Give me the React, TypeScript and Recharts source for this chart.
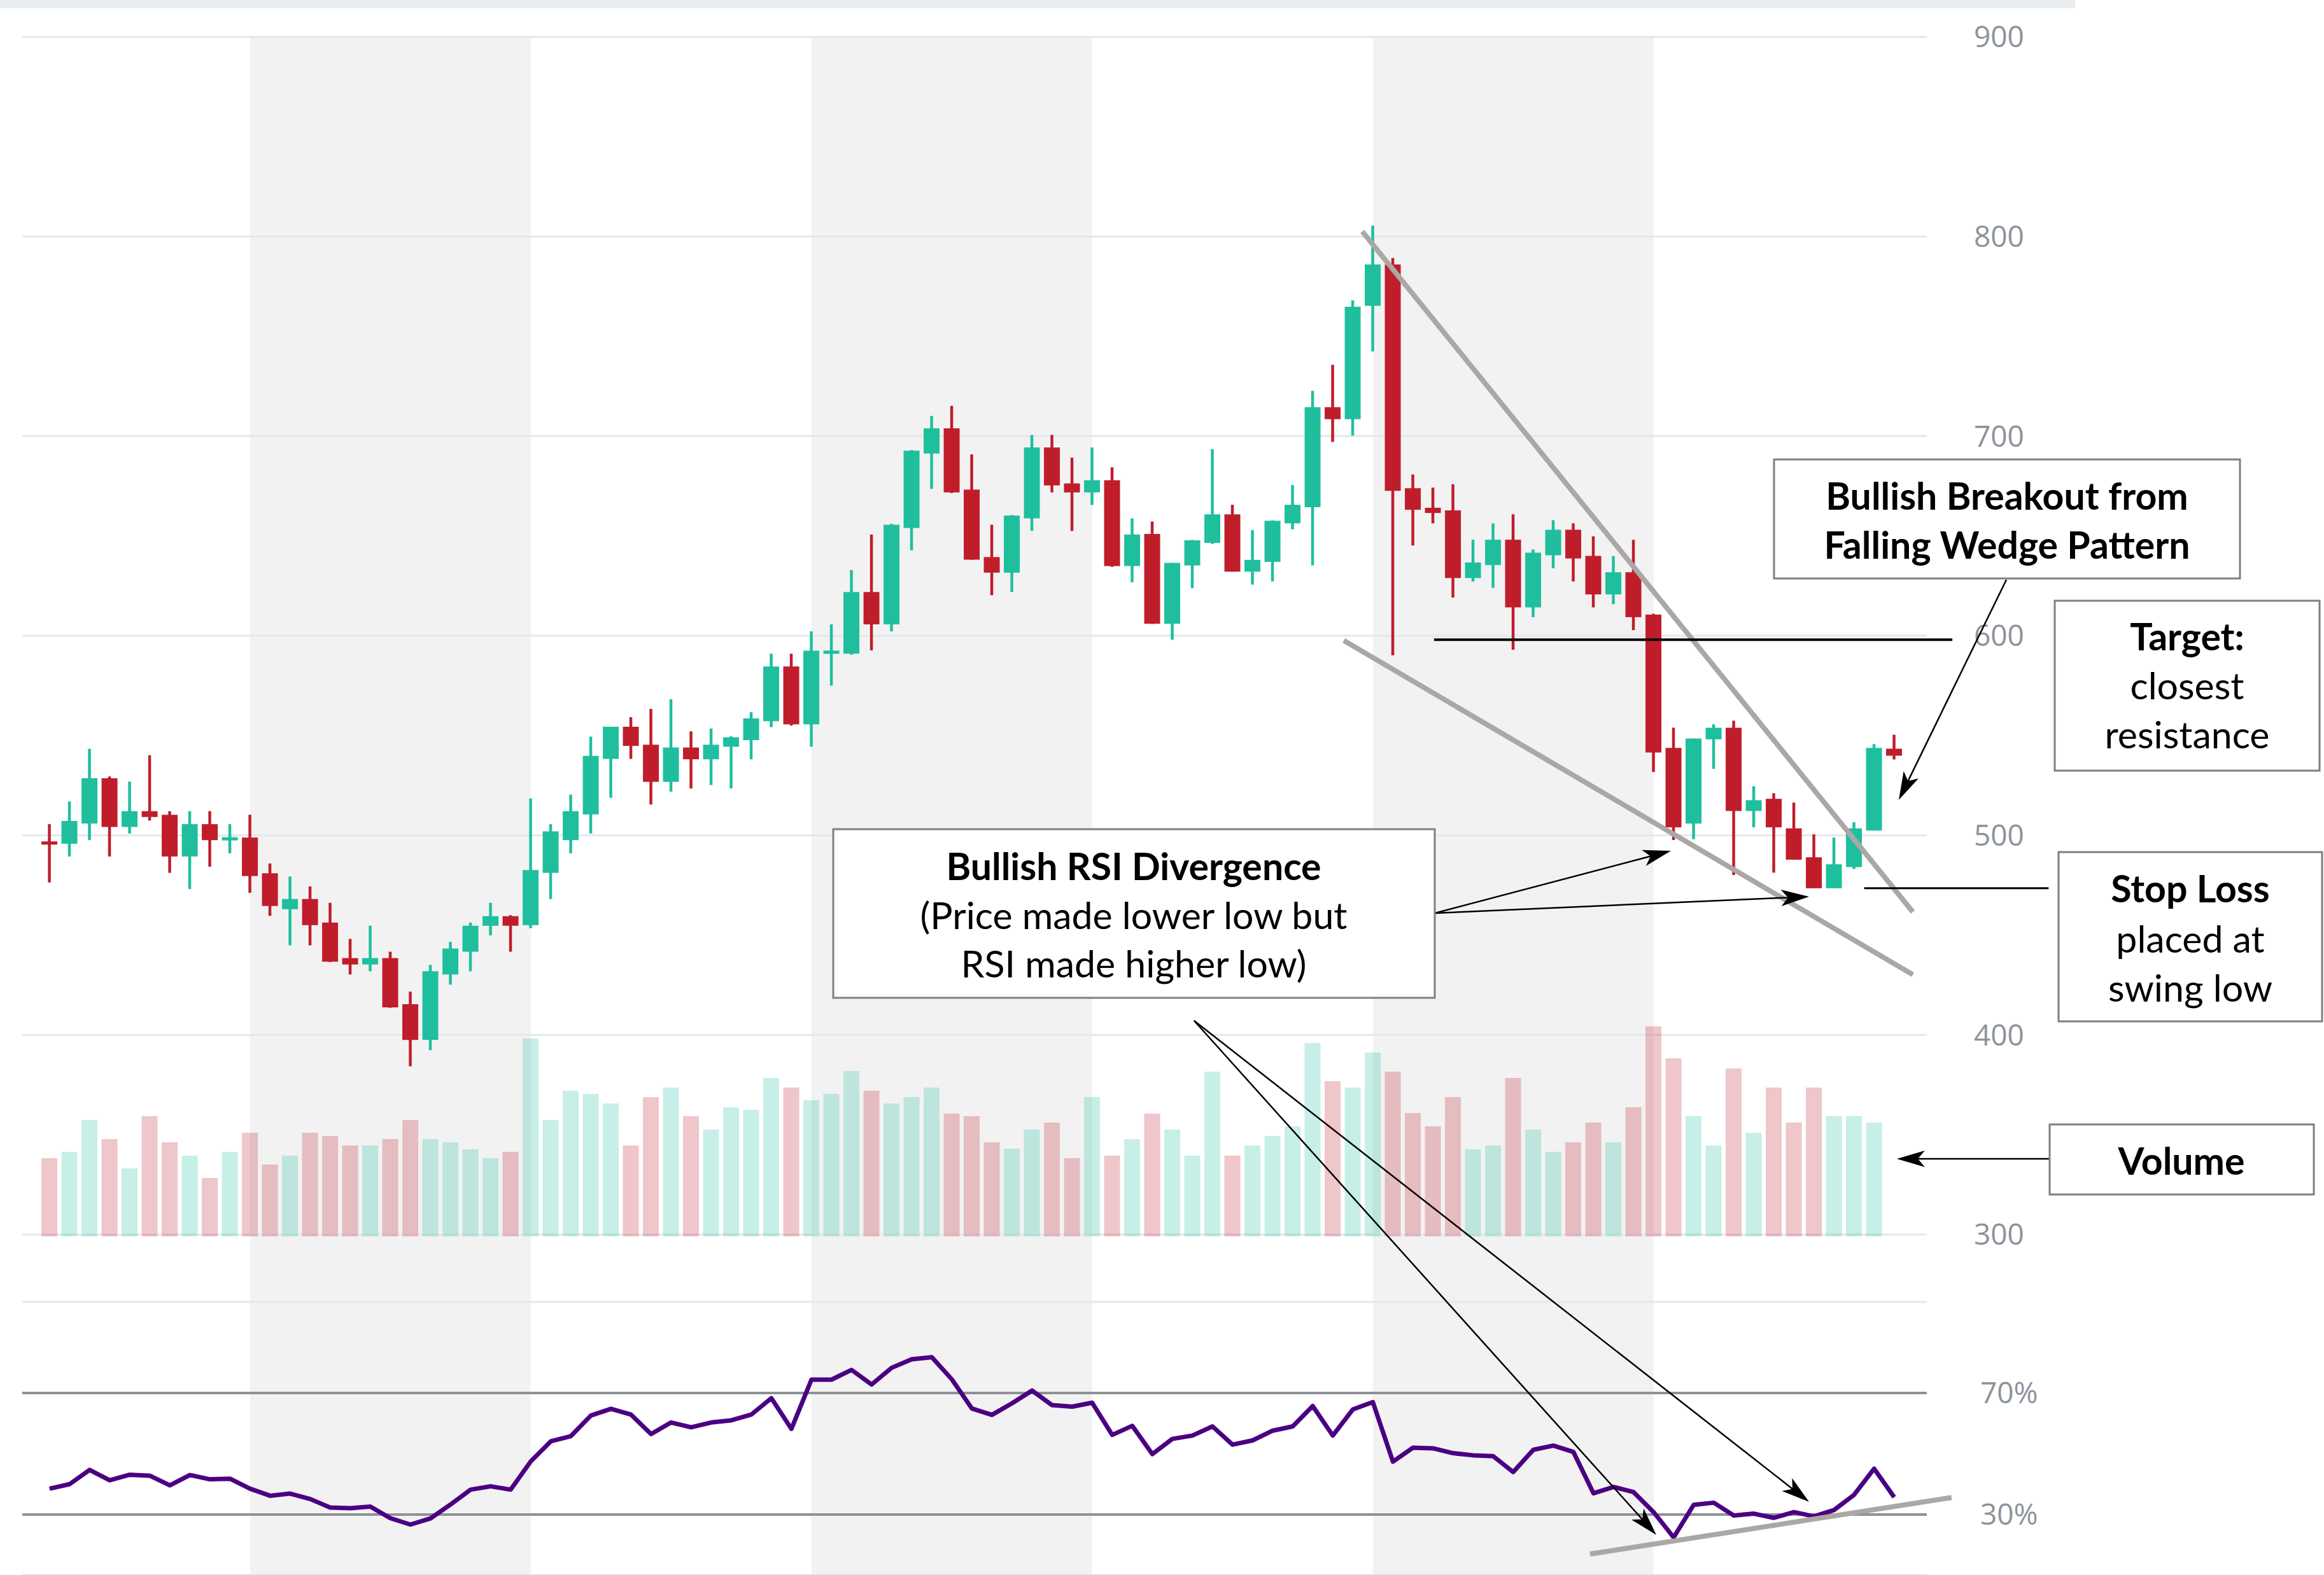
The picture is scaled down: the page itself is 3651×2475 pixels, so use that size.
import React from 'react';
import {
  ComposedChart,
  Bar,
  Line,
  XAxis,
  YAxis,
  CartesianGrid,
  ReferenceArea,
  ReferenceLine,
  Cell,
} from 'recharts';

const W = 3651;
const H = 2475;

// ---- values (one entry per daily candle) ----
const opens = [
  496.8, 495.8, 505.9, 528.6, 504.2, 512.1, 510.3, 489.4, 505.6, 497.6,
  498.9, 481.0, 463.0, 468.1, 456.3, 438.5, 435.3, 438.5, 415.4, 397.5,
  430.3, 441.7, 454.7, 459.5, 455.0, 481.2, 497.6, 510.5, 538.3, 554.4,
  545.4, 526.8, 544.0, 538.1, 544.4, 547.7, 557.2, 584.6, 555.6, 591.0,
  591.0, 621.9, 605.7, 654.0, 691.3, 703.9, 673.2, 639.4, 631.6, 658.8,
  694.3, 676.3, 671.8, 677.9, 634.9, 651.0, 606.0, 635.2, 646.5, 660.8,
  632.1, 637.0, 656.3, 664.4, 714.5, 708.5, 765.3, 786.0, 673.9, 664.1,
  662.8, 628.9, 635.4, 648.1, 614.2, 640.3, 653.1, 640.0, 620.7, 631.8,
  610.6, 543.8, 505.9, 548.1, 553.9, 512.2, 518.3, 503.5, 489.0, 473.5,
  484.1, 502.4, 543.4,
];
const highs = [
  505.6, 517.0, 543.3, 529.5, 526.9, 540.1, 512.1, 512.1, 512.1, 505.6,
  510.3, 485.9, 479.4, 474.4, 466.2, 448.1, 454.7, 441.7, 421.7, 435.1,
  446.6, 456.3, 466.2, 460.0, 518.5, 505.6, 520.4, 549.5, 554.4, 559.2,
  563.3, 568.2, 552.1, 553.5, 549.6, 561.7, 591.0, 591.0, 602.2, 605.7,
  632.9, 650.7, 656.0, 693.0, 710.1, 715.2, 690.9, 655.6, 660.5, 700.6,
  700.6, 689.2, 694.3, 684.4, 658.8, 657.2, 636.5, 648.0, 693.5, 665.6,
  652.9, 657.8, 675.5, 722.7, 735.7, 768.0, 805.5, 789.2, 680.8, 674.2,
  675.9, 648.1, 656.3, 660.8, 643.2, 657.9, 656.3, 649.8, 640.0, 648.1,
  611.0, 553.9, 548.5, 555.6, 557.4, 524.6, 521.1, 516.4, 500.5, 498.9,
  506.6, 545.7, 550.4,
];
const lows = [
  476.4, 489.4, 497.6, 489.4, 500.9, 507.4, 481.2, 473.1, 484.3, 491.0,
  471.2, 459.7, 444.9, 444.9, 436.5, 430.3, 431.9, 413.6, 384.3, 392.4,
  425.2, 431.9, 449.9, 441.7, 453.5, 468.1, 491.0, 500.9, 518.8, 538.3,
  515.4, 521.9, 523.5, 525.2, 523.5, 538.1, 554.2, 555.0, 544.4, 575.0,
  590.5, 592.7, 602.2, 642.8, 673.6, 671.5, 638.0, 620.3, 621.9, 652.5,
  671.8, 652.5, 665.5, 634.5, 626.8, 605.9, 598.0, 623.8, 646.0, 632.1,
  625.6, 627.2, 653.3, 635.2, 697.1, 700.3, 742.4, 590.2, 645.2, 656.3,
  619.1, 627.2, 624.0, 593.0, 609.3, 633.8, 627.2, 614.2, 615.8, 602.8,
  531.7, 497.7, 498.1, 533.3, 480.1, 504.0, 481.3, 487.8, 473.5, 473.5,
  483.1, 502.4, 538.0,
];
const closes = [
  495.5, 507.2, 528.6, 504.2, 512.1, 509.2, 489.4, 505.6, 497.6, 498.9,
  479.6, 464.6, 468.1, 455.0, 436.7, 435.3, 438.5, 413.8, 397.5, 431.9,
  443.3, 454.7, 459.5, 454.7, 482.6, 502.0, 512.1, 539.8, 554.4, 544.8,
  526.8, 544.0, 538.1, 545.4, 549.1, 558.6, 584.6, 555.6, 592.5, 592.5,
  621.9, 605.7, 655.6, 692.7, 703.9, 671.8, 638.1, 631.6, 660.2, 694.3,
  675.3, 671.8, 677.9, 634.9, 650.7, 606.0, 636.5, 647.8, 660.8, 632.1,
  638.0, 657.6, 665.6, 714.5, 708.5, 764.8, 786.0, 672.6, 663.1, 661.5,
  628.9, 636.7, 648.1, 614.2, 641.6, 653.1, 638.7, 620.7, 631.8, 609.3,
  541.5, 504.0, 548.5, 553.9, 512.2, 517.6, 504.0, 487.8, 473.5, 485.5,
  503.5, 543.8, 539.9,
];
// last candle has no volume bar yet
const volumes = [
  123, 133, 183, 153, 107, 189, 148, 127, 92, 133,
  163, 113, 127, 163, 158, 143, 143, 153, 183, 153,
  148, 137, 123, 133, 311, 183, 229, 224, 209, 143,
  219, 234, 189, 168, 203, 199, 249, 234, 214, 224,
  260, 229, 209, 219, 234, 193, 189, 148, 138, 168,
  179, 123, 219, 127, 153, 193, 168, 127, 259, 127,
  143, 158, 173, 304, 244, 234, 289, 259, 194, 173,
  219, 137, 143, 249, 168, 133, 148, 179, 148, 203,
  330, 280, 189, 143, 264, 163, 234, 179, 234, 189,
  189, 179, null,
];
const rsiValues = [
  38.5, 40.0, 44.7, 41.3, 43.1, 42.8, 39.6, 43.0, 41.6, 41.8,
  38.5, 36.2, 36.9, 35.1, 32.3, 32.1, 32.6, 28.8, 26.7, 28.7,
  33.3, 38.2, 39.3, 38.2, 47.5, 54.1, 55.8, 62.6, 64.8, 62.9,
  56.5, 60.3, 58.7, 60.3, 61.0, 62.9, 68.3, 58.2, 74.4, 74.4,
  77.6, 72.8, 78.3, 81.1, 81.8, 74.5, 64.9, 62.8, 66.6, 70.8,
  66.0, 65.5, 66.8, 56.2, 59.2, 49.9, 54.9, 56.0, 59.0, 53.0,
  54.4, 57.6, 59.0, 65.7, 56.0, 64.6, 67.0, 47.4, 52.0, 51.8,
  50.2, 49.5, 49.2, 44.0, 51.3, 52.7, 50.6, 37.0, 39.1, 37.4,
  30.8, 22.5, 33.2, 33.9, 29.7, 30.3, 28.9, 30.8, 29.4, 31.5,
  36.5, 45.1, 35.7,
];

const priceTicks = [300, 400, 500, 600, 700, 800, 900];
const rsiLevels = [
  { value: 70, label: '70%' },
  { value: 30, label: '30%' },
];
// alternating two-week shading, in candle index
const shadedSpans = [
  [10, 24],
  [38, 52],
  [66, 80],
];

// drawn trend lines, as (candle index, price) or (candle index, rsi)
const upperWedge = [{ x: 65.47, y: 802.5 }, { x: 92.93, y: 461.6 }];
const lowerWedge = [{ x: 64.55, y: 597.6 }, { x: 92.93, y: 430.2 }];
const resistance = [{ x: 69.05, y: 598 }, { x: 94.9, y: 598 }];
const stopLoss = [{ x: 90.5, y: 473.5 }, { x: 99.7, y: 473.5 }];
const rsiSupport = [{ x: 76.83, y: 17.0 }, { x: 94.86, y: 35.6 }];

const rows = opens.map((open, i) => ({
  i,
  open,
  high: highs[i],
  low: lows[i],
  close: closes[i],
  range: [lows[i], highs[i]],
  volume: volumes[i],
  rsi: rsiValues[i],
  up: closes[i] >= opens[i],
}));

// ---- look ----
const GREEN = '#1fbf9e';
const RED = '#c01d2b';
const GRID = '#e4e7eb';
const SHADE = '#f2f2f2';
const WEDGE = '#aba7a5';
const LEVEL = '#8e9195';
const RSI_COLOR = '#4b0082';
const AXIS_TEXT = '#8d929a';
const FONT = 'Lato, "Open Sans", sans-serif';
const NOTE_SIZE = 59;

// ---- layout: one plot area spanning the whole height, three value axes ----
const PLOT_LEFT = 35;
const PLOT_RIGHT = 3027;
const AXIS_W = 150;
const FIRST_X = 77.8;
const STEP = 31.5;

const xDomain: [number, number] = [
  (PLOT_LEFT - FIRST_X) / STEP,
  (PLOT_RIGHT - FIRST_X) / STEP,
];

// domain of an axis covering y = 0..H, from two value/pixel anchors
function spanDomain(v1: number, y1: number, v2: number, y2: number): [number, number] {
  const k = (v2 - v1) / (y2 - y1);
  return [v1 + (H - y1) * k, v1 + (0 - y1) * k];
}

const priceDomain = spanDomain(900, 58, 300, 1940);
const rsiDomain = spanDomain(70, 2189, 30, 2380);
const volDomain = spanDomain(0, 1943, 100, 1843);

const Candle = (props: any) => {
  const { x, y, width, height, payload } = props;
  if (x == null || y == null || !payload) return null;
  const top = Math.min(y, y + height);
  const bot = Math.max(y, y + height);
  const { open, close, high, low, up } = payload;
  const py = (v: number) => (high === low ? top : top + ((high - v) / (high - low)) * (bot - top));
  const cx = x + width / 2;
  const color = up ? GREEN : RED;
  let bTop = py(Math.max(open, close));
  let bBot = py(Math.min(open, close));
  if (bBot - bTop < 5) {
    const mid = (bTop + bBot) / 2;
    bTop = mid - 2.5;
    bBot = mid + 2.5;
  }
  return (
    <g>
      <line x1={cx} x2={cx} y1={top} y2={bot} stroke={color} strokeWidth={4.5} />
      <rect x={cx - width / 2} y={bTop} width={width} height={bBot - bTop} fill={color} />
    </g>
  );
};

// ---- annotation overlay (pixel space) ----
type Note = {
  x: number;
  y: number;
  w: number;
  h: number;
  cx: number;
  lines: { text: string; bold?: boolean; cy: number }[];
};

const notes: Note[] = [
  {
    x: 1309, y: 1303, w: 945, h: 265, cx: 1781,
    lines: [
      { text: 'Bullish RSI Divergence', bold: true, cy: 1360 },
      { text: '(Price made lower low but', cy: 1437 },
      { text: 'RSI made higher low)', cy: 1513 },
    ],
  },
  {
    x: 2787, y: 722, w: 732, h: 187, cx: 3153,
    lines: [
      { text: 'Bullish Breakout from', bold: true, cy: 778 },
      { text: 'Falling Wedge Pattern', bold: true, cy: 855 },
    ],
  },
  {
    x: 3228, y: 944, w: 416, h: 267, cx: 3436,
    lines: [
      { text: 'Target:', bold: true, cy: 999 },
      { text: 'closest', cy: 1076 },
      { text: 'resistance', cy: 1153 },
    ],
  },
  {
    x: 3234, y: 1339, w: 414, h: 266, cx: 3441,
    lines: [
      { text: 'Stop Loss', bold: true, cy: 1395 },
      { text: 'placed at', cy: 1474 },
      { text: 'swing low', cy: 1551 },
    ],
  },
  {
    x: 3220, y: 1767, w: 415, h: 110, cx: 3427,
    lines: [{ text: 'Volume', bold: true, cy: 1823 }],
  },
];

const arrows = [
  [2254, 1435, 2625, 1337],
  [2254, 1435, 2842, 1409],
  [1876, 1604, 2602, 2412],
  [1876, 1604, 2842, 2360],
  [3152, 911, 2983, 1257],
  [3220, 1821, 2980, 1821],
];

function Arrow({ a }: { a: number[] }) {
  const [x1, y1, x2, y2] = a;
  const ang = Math.atan2(y2 - y1, x2 - x1);
  const len = 44;
  const half = 13;
  const c = Math.cos(ang);
  const s = Math.sin(ang);
  const bx = x2 - len * c;
  const by = y2 - len * s;
  const nx = x2 - len * 0.75 * c;
  const ny = y2 - len * 0.75 * s;
  const pts = `${x2},${y2} ${bx - s * half},${by + c * half} ${nx},${ny} ${bx + s * half},${by - c * half}`;
  return (
    <g>
      <line x1={x1} y1={y1} x2={nx} y2={ny} stroke="#000" strokeWidth={2.5} />
      <polygon points={pts} fill="#000" />
    </g>
  );
}

export default function App() {
  return (
    <div style={{ position: 'absolute', left: 0, top: 0, width: W, height: H, background: '#fff' }}>
      <ComposedChart
        width={W}
        height={H}
        data={rows}
        margin={{ top: 0, right: W - PLOT_RIGHT - AXIS_W, bottom: 0, left: PLOT_LEFT }}
      >
        <XAxis dataKey="i" type="number" domain={xDomain} allowDataOverflow hide />
        <XAxis xAxisId="vx" dataKey="i" type="number" domain={xDomain} allowDataOverflow hide />
        <YAxis
          orientation="right"
          width={AXIS_W}
          domain={priceDomain}
          allowDataOverflow
          ticks={priceTicks}
          interval={0}
          axisLine={false}
          tickLine={false}
          tickSize={0}
          tickMargin={74}
          tick={{ fill: AXIS_TEXT, fontSize: 46, fontFamily: '"Open Sans", sans-serif' }}
        />
        <YAxis yAxisId="vol" domain={volDomain} allowDataOverflow hide />
        <YAxis yAxisId="rsi" domain={rsiDomain} allowDataOverflow hide />

        {shadedSpans.map(([a, b]) => (
          <ReferenceArea
            key={`shade-${a}`}
            x1={a}
            x2={b}
            y1={priceDomain[0]}
            y2={900}
            fill={SHADE}
            fillOpacity={1}
            stroke="none"
            zIndex={-200}
          />
        ))}

        <CartesianGrid vertical={false} stroke={GRID} strokeWidth={3} />
        <ReferenceLine yAxisId="rsi" y={100} stroke={GRID} strokeWidth={3} />
        {rsiLevels.map((l) => (
          <ReferenceLine
            key={l.label}
            yAxisId="rsi"
            y={l.value}
            stroke={LEVEL}
            strokeWidth={4}
            label={{
              value: l.label,
              position: 'right',
              offset: 84,
              fill: AXIS_TEXT,
              fontSize: 46,
              fontFamily: '"Open Sans", sans-serif',
            }}
          />
        ))}

        <Bar xAxisId="vx" yAxisId="vol" dataKey="volume" barSize={25} isAnimationActive={false}>
          {rows.map((r) => (
            <Cell key={`v-${r.i}`} fill={r.up ? GREEN : RED} fillOpacity={0.25} />
          ))}
        </Bar>
        <Bar dataKey="range" barSize={25} shape={Candle} isAnimationActive={false} />

        <Line
          yAxisId="rsi"
          dataKey="rsi"
          type="linear"
          stroke={RSI_COLOR}
          strokeWidth={7}
          strokeLinejoin="round"
          dot={false}
          activeDot={false}
          isAnimationActive={false}
        />

        <ReferenceLine segment={upperWedge} stroke={WEDGE} strokeWidth={8} ifOverflow="visible" zIndex={700} />
        <ReferenceLine segment={lowerWedge} stroke={WEDGE} strokeWidth={8} ifOverflow="visible" zIndex={700} />
        <ReferenceLine segment={resistance} stroke="#000" strokeWidth={4} ifOverflow="visible" zIndex={700} />
        <ReferenceLine segment={stopLoss} stroke="#000" strokeWidth={3} ifOverflow="visible" zIndex={700} />
        <ReferenceLine
          yAxisId="rsi"
          segment={rsiSupport}
          stroke={WEDGE}
          strokeWidth={8}
          ifOverflow="visible"
          zIndex={700}
        />
      </ComposedChart>

      <svg
        width={W}
        height={H}
        style={{ position: 'absolute', left: 0, top: 0, pointerEvents: 'none' }}
      >
        <rect x={0} y={0} width={3260} height={13} fill="#e9edf0" />
        {arrows.map((a, k) => (
          <Arrow key={k} a={a} />
        ))}
        {notes.map((n, k) => (
          <g key={k}>
            <rect x={n.x} y={n.y} width={n.w} height={n.h} fill="#fff" stroke="#7f7f7f" strokeWidth={3} />
            {n.lines.map((l) => (
              <text
                key={l.text}
                x={n.cx}
                y={l.cy}
                textAnchor="middle"
                dominantBaseline="central"
                fontFamily={FONT}
                fontSize={NOTE_SIZE}
                fontWeight={l.bold ? 700 : 400}
                fill="#000"
              >
                {l.text}
              </text>
            ))}
          </g>
        ))}
      </svg>
    </div>
  );
}
